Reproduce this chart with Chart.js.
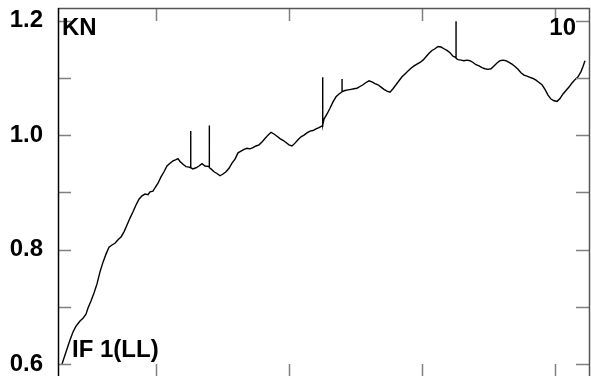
<!DOCTYPE html>
<html>
<head>
<meta charset="utf-8">
<script src="https://cdn.jsdelivr.net/npm/chart.js@4"></script>
<style>
  html, body { margin: 0; padding: 0; background: #fff; }
  #wrap { width: 591px; height: 376px; overflow: hidden; }
</style>
</head>
<body>
<div id="wrap"><canvas id="c"></canvas></div>
<script>
// sample position (x) and force (y)
const times = [
  4, 8, 12, 15, 18, 22, 25, 28, 30, 33, 36, 39, 42, 45, 48, 51, 54, 57, 60, 63,
  66, 69, 72, 75, 78, 81, 84, 87, 90, 92, 95, 97, 100, 103, 106, 109, 112, 115, 118, 120,
  122, 125, 128, 131, 132.7, 132.7, 132.8, 135, 138, 141, 144, 147, 151.3, 151.3, 151.4,
  153, 156, 159, 162, 165, 168, 171, 174, 177, 180, 183, 186, 189, 192, 195, 198, 201,
  204, 207, 210, 213, 216, 219, 222, 225, 228, 231, 234, 237, 240, 243, 246, 249, 252,
  255, 258, 261, 264, 264.7, 264.7, 264.8, 266, 269, 272, 275, 278, 281, 283.5, 284, 284, 284.1,
  287, 290, 293, 296, 299, 302, 305, 308, 311, 314, 317, 320, 323, 326, 329, 332, 335,
  338, 341, 344, 347, 350, 353, 356, 359, 362, 365, 368, 371, 374, 377, 380, 383, 386,
  389, 392, 395, 397.5, 398, 398, 398.1, 400, 403, 406, 409, 412, 415, 418, 421, 424, 427,
  430, 433, 436, 439, 442, 445, 448, 451, 454, 457, 460, 463, 466, 469, 472, 475, 478,
  481, 484, 487, 490, 493, 496, 499, 502, 505, 508, 511, 514, 517, 520, 523, 525, 527
];
const forces = [
  0.600, 0.621, 0.642, 0.656, 0.666, 0.675, 0.680, 0.687, 0.698, 0.710, 0.724, 0.740, 0.761, 0.778, 0.792, 0.804, 0.808, 0.811, 0.817, 0.822,
  0.831, 0.843, 0.855, 0.866, 0.878, 0.888, 0.894, 0.897, 0.896, 0.901, 0.902, 0.908, 0.916, 0.927, 0.936, 0.946, 0.951, 0.955, 0.957, 0.959,
  0.954, 0.949, 0.945, 0.944, 0.943, 1.007, 0.943, 0.941, 0.943, 0.946, 0.950, 0.946, 0.945, 1.017, 0.943,
  0.941, 0.936, 0.933, 0.929, 0.932, 0.936, 0.942, 0.951, 0.958, 0.969, 0.972, 0.975, 0.977, 0.976, 0.978, 0.981, 0.983,
  0.988, 0.994, 1.000, 1.005, 1.002, 0.998, 0.994, 0.991, 0.987, 0.983, 0.981, 0.986, 0.992, 0.997, 1.000, 1.004, 1.007,
  1.008, 1.011, 1.013, 1.016, 1.017, 1.101, 1.018, 1.028, 1.037, 1.047, 1.058, 1.067, 1.072, 1.075, 1.076, 1.098, 1.076,
  1.078, 1.079, 1.080, 1.081, 1.082, 1.085, 1.088, 1.092, 1.095, 1.093, 1.090, 1.088, 1.084, 1.080, 1.077, 1.075, 1.081,
  1.088, 1.095, 1.102, 1.107, 1.112, 1.117, 1.121, 1.124, 1.127, 1.131, 1.137, 1.143, 1.148, 1.151, 1.155, 1.154, 1.151,
  1.148, 1.144, 1.138, 1.136, 1.135, 1.199, 1.134, 1.132, 1.131, 1.130, 1.131, 1.130, 1.127, 1.123, 1.121, 1.118, 1.116,
  1.115, 1.116, 1.121, 1.126, 1.130, 1.131, 1.130, 1.127, 1.124, 1.120, 1.115, 1.109, 1.105, 1.103, 1.101, 1.099, 1.096,
  1.092, 1.088, 1.080, 1.070, 1.063, 1.060, 1.059, 1.064, 1.072, 1.078, 1.084, 1.091, 1.097, 1.102, 1.111, 1.120, 1.130
];

const yMajor = [0.6, 0.8, 1.0, 1.2];
const yMinor = [0.7, 0.9, 1.1];
const xTicks = [98, 231, 364, 497];

const points = times.map((t, i) => ({ x: t, y: forces[i] }));

const labelFont = "bold 24px 'Liberation Sans', Arial, sans-serif";

// frame, inward ticks and the corner labels
const framePlugin = {
  id: "frame",
  afterDraw(chart) {
    const { ctx, chartArea: a, scales } = chart;
    const ys = scales.y, xs = scales.x;
    ctx.save();
    ctx.lineWidth = 1.5;
    ctx.strokeStyle = "#808080";
    [...yMajor, ...yMinor].forEach((v) => {
      const py = Math.round(ys.getPixelForValue(v)) + 0.5;
      ctx.beginPath();
      ctx.moveTo(a.left, py);
      ctx.lineTo(a.left + 13, py);
      ctx.moveTo(a.right, py);
      ctx.lineTo(a.right - 14, py);
      ctx.stroke();
    });
    xTicks.forEach((v) => {
      const px = Math.round(xs.getPixelForValue(v)) + 0.5;
      ctx.beginPath();
      ctx.moveTo(px, a.top);
      ctx.lineTo(px, a.top + 13);
      ctx.moveTo(px, a.bottom + 1);
      ctx.lineTo(px, a.bottom - 12);
      ctx.stroke();
    });
    ctx.strokeStyle = "#555";
    ctx.beginPath();
    ctx.moveTo(a.left, a.top + 0.5);
    ctx.lineTo(a.right, a.top + 0.5);
    ctx.moveTo(a.right - 0.5, a.top);
    ctx.lineTo(a.right - 0.5, a.bottom);
    ctx.stroke();
    ctx.strokeStyle = "#000";
    ctx.beginPath();
    ctx.moveTo(a.left + 0.5, a.top);
    ctx.lineTo(a.left + 0.5, a.bottom);
    ctx.stroke();

    ctx.fillStyle = "#000";
    ctx.font = labelFont;
    ctx.textBaseline = "alphabetic";
    ctx.textAlign = "left";
    ctx.fillText("KN", a.left + 4, a.top + 27);
    ctx.fillText("IF 1(LL)", a.left + 14, a.bottom - 19);
    ctx.textAlign = "right";
    ctx.fillText("10", a.right - 14, a.top + 27);
    ctx.restore();
  }
};

new Chart(document.getElementById("c"), {
  type: "scatter",
  data: {
    datasets: [{
      data: points,
      showLine: true,
      borderColor: "#000",
      borderWidth: 1.4,
      pointRadius: 0,
      tension: 0
    }]
  },
  options: {
    responsive: true,
    maintainAspectRatio: false,
    animation: false,
    events: [],
    layout: { padding: { top: 8, right: 1, left: 0, bottom: 0 } },
    plugins: { legend: { display: false }, tooltip: { enabled: false } },
    scales: {
      x: {
        type: "linear",
        display: false,
        min: 0,
        max: 532
      },
      y: {
        type: "linear",
        min: 0.579,
        max: 1.2222,
        afterFit(scale) {
          scale.width = 58;
          scale.paddingTop = 0;
          scale.paddingBottom = 0;
        },
        afterBuildTicks(scale) { scale.ticks = yMajor.map((v) => ({ value: v })); },
        grid: { display: false, drawTicks: false },
        border: { display: false },
        ticks: {
          padding: 15,
          color: "#000",
          font: { family: "'Liberation Sans', Arial, sans-serif", size: 24, weight: "bold" },
          callback: (v) => Number(v).toFixed(1)
        }
      }
    }
  },
  plugins: [framePlugin]
});
</script>
</body>
</html>
